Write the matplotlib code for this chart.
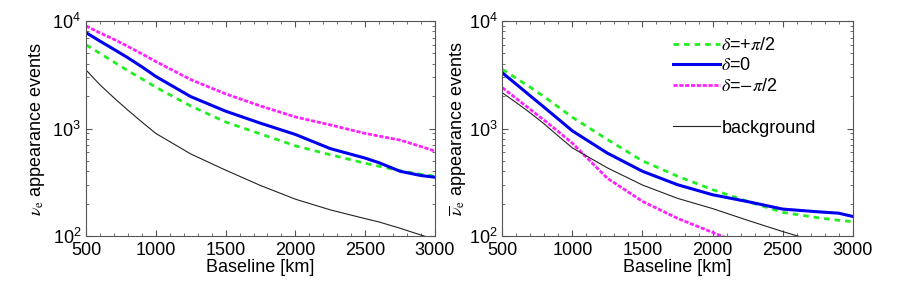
import matplotlib
matplotlib.use("Agg")
import matplotlib.pyplot as plt
from matplotlib.ticker import MultipleLocator, LogLocator, NullFormatter

plt.rcParams['font.family'] = ['Liberation Sans', 'DejaVu Sans']
plt.rcParams['mathtext.fontset'] = 'stix'

baseline = [500, 600, 700, 800, 900, 1000, 1250, 1500, 1750, 2000, 2250, 2500, 2600, 2750, 2900, 3000]

# neutrino (left panel)
nu_plus = [6000, 5000, 4150, 3450, 2900, 2420, 1620, 1150, 890, 690, 570, 475, 445, 405, 375, 360]
nu_zero = [7800, 6500, 5450, 4550, 3750, 3050, 1980, 1450, 1120, 880, 650, 530, 480, 400, 365, 352]
nu_minus = [9000, 7750, 6750, 5800, 4950, 4200, 2850, 2100, 1620, 1280, 1080, 900, 850, 780, 680, 615]
nu_bkg = [3500, 2550, 1930, 1480, 1150, 900, 580, 410, 295, 220, 175, 145, 135, 118, 102, 93]

# anti-neutrino (right panel)
anu_base = [500, 600, 700, 800, 900, 1000, 1250, 1500, 1750, 2000, 2250, 2500, 2750, 2900, 3000]
anu_plus = [3550, 2930, 2420, 1970, 1585, 1270, 790, 500, 360, 270, 210, 166, 148, 140, 136]
anu_zero = [3300, 2580, 2010, 1570, 1222, 950, 590, 400, 300, 242, 209, 178, 168, 163, 152]
anu_minus = [2400, 1900, 1505, 1190, 935, 730, 344, 210, 146, 108, 80, 60, 45, 38, 35]
anu_bkg = [2150, 1740, 1395, 1100, 850, 660, 430, 298, 224, 180, 140, 110, 88, 78, 72]

labels = [r'$\delta$=+$\pi$/2', r'$\delta$=0', r'$\delta$=$-\pi$/2', 'background']

fig = plt.figure(figsize=(9, 2.87), dpi=100)
ax1 = fig.add_axes([86/900, 51/287, 349/900, 215/287])
ax2 = fig.add_axes([502.3/900, 51/287, 350.4/900, 215/287])

green = '#22ee22'
blue = '#0000f0'
magenta = '#ff22ff'

def draw(ax, x, plus, zero, minus, bkg):
    lp, = ax.plot(x, plus, color=green, lw=2.0, dashes=(2.0, 1.8))
    lz, = ax.plot(x, zero, color=blue, lw=2.2)
    lm, = ax.plot(x, minus, color=magenta, lw=2.0, dashes=(1.5, 0.6))
    lb, = ax.plot(x, bkg, color='#222222', lw=0.8)
    ax.set_yscale('log')
    ax.set_xlim(500, 3000)
    ax.set_ylim(100, 10000)
    ax.xaxis.set_major_locator(MultipleLocator(500))
    ax.xaxis.set_minor_locator(MultipleLocator(100))
    ax.yaxis.set_major_locator(LogLocator(base=10))
    ax.yaxis.set_minor_locator(LogLocator(base=10, subs=range(2, 10)))
    ax.yaxis.set_minor_formatter(NullFormatter())
    ax.tick_params(which='both', direction='in', top=True, right=True,
                   labelsize=13, color='#555555')
    ax.tick_params(which='major', length=4)
    ax.tick_params(axis='x', which='major', pad=4)
    ax.tick_params(which='minor', length=2)
    for s in ax.spines.values():
        s.set_color('#555555')
        s.set_linewidth(0.8)
    ax.set_xlabel('Baseline [km]', fontsize=13, labelpad=0)
    return lp, lz, lm, lb

draw(ax1, baseline, nu_plus, nu_zero, nu_minus, nu_bkg)
lp, lz, lm, lb = draw(ax2, anu_base, anu_plus, anu_zero, anu_minus, anu_bkg)

ax1.set_ylabel(r'$\nu_{\mathrm{e}}$ appearance events', fontsize=13)
ax2.set_ylabel(r'$\overline{\nu}_{\mathrm{e}}$ appearance events', fontsize=13)
for ax, xc in ((ax1, -0.14), (ax2, -0.126)):
    ax.yaxis.label.set_verticalalignment('center')
    ax.yaxis.set_label_coords(xc, 0.5)

leg1 = ax2.legend([lp, lz, lm], labels[:3],
                  loc='upper left', bbox_to_anchor=(0.45, 0.985), frameon=False,
                  fontsize=13, handlelength=2.6, handletextpad=0.1,
                  labelspacing=0.2, borderpad=0.2)
ax2.add_artist(leg1)
ax2.legend([lb], [labels[3]],
           loc='upper left', bbox_to_anchor=(0.45, 0.60), frameon=False,
           fontsize=13, handlelength=2.6, handletextpad=0.1, borderpad=0.2)

fig.savefig('out.png', dpi=100)
